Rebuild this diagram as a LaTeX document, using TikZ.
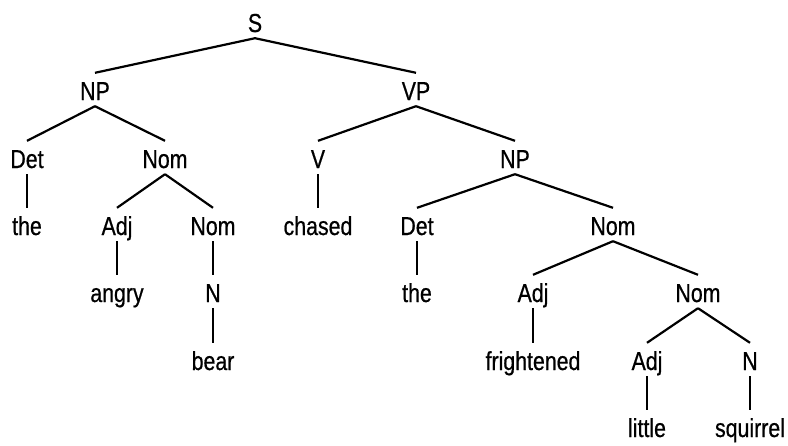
\documentclass[tikz,border=0pt]{standalone}
\usepackage{fontspec}
\newfontfamily\treefont[FakeStretch=0.82,FakeBold=0.6]{Liberation Sans}
\usepackage{tikz}

\begin{document}
\begin{tikzpicture}[x=1pt,y=-1pt,
  lbl/.style={anchor=base,font=\treefont\fontsize{26}{31}\selectfont,
    text height=27pt,text depth=6pt,inner ysep=0pt,inner xsep=1pt},
  br/.style={line width=2.2pt}]
\useasboundingbox (0,0) rectangle (788,445);
% level 0-2
\node[lbl] (s) at (255,32) {S};
\node[lbl] (np1) at (95,100) {NP};
\node[lbl] (vp) at (416,100) {VP};
\node[lbl] (det1) at (27,168) {Det};
\node[lbl] (nom1) at (165,168) {Nom};
\node[lbl] (v) at (318,168) {V};
\node[lbl] (np2) at (515,168) {NP};
% level 3
\node[lbl] (the1) at (27,235) {the};
\node[lbl] (adj1) at (117,235) {Adj};
\node[lbl] (nom2) at (213,235) {Nom};
\node[lbl] (chased) at (318,235) {chased};
\node[lbl] (det2) at (417,235) {Det};
\node[lbl] (nom3) at (613,235) {Nom};
% level 4
\node[lbl] (angry) at (117,302) {angry};
\node[lbl] (n1) at (213,302) {N};
\node[lbl] (the2) at (417,302) {the};
\node[lbl] (adj2) at (533,302) {Adj};
\node[lbl] (nom4) at (698,302) {Nom};
% level 5-6
\node[lbl] (bear) at (213,370) {bear};
\node[lbl] (frightened) at (533,370) {frightened};
\node[lbl] (adj3) at (647,370) {Adj};
\node[lbl] (n2) at (750,370) {N};
\node[lbl] (little) at (647,437) {little};
\node[lbl] (squirrel) at (750,437) {squirrel};
% branches
\foreach \p/\c in {s/np1,s/vp,np1/det1,np1/nom1,vp/v,vp/np2,
    det1/the1,nom1/adj1,nom1/nom2,v/chased,np2/det2,np2/nom3,
    adj1/angry,nom2/n1,det2/the2,nom3/adj2,nom3/nom4,
    n1/bear,adj2/frightened,nom4/adj3,nom4/n2,adj3/little,n2/squirrel}
  \draw[br] (\p.south) -- (\c.north);
\end{tikzpicture}
\end{document}
